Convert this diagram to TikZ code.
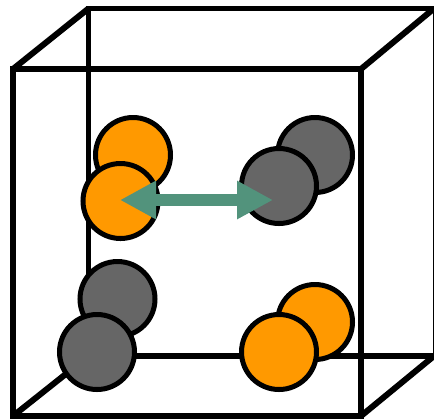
\documentclass[tikz,border=0pt]{standalone}
\usetikzlibrary{arrows.meta}
\definecolor{ink}{HTML}{000000}
\definecolor{amber}{HTML}{FF9900}
\definecolor{slate}{HTML}{666666}
\definecolor{sage}{HTML}{52937C}
\tikzset{
  backedge/.style={ink,line width=4.2pt},
  frontedge/.style={ink,line width=4.5pt},
  ball/.style={draw=ink,line width=3.75pt},
}

\begin{document}
\begin{tikzpicture}[x=0.75pt,y=-0.75pt,line join=miter]
  \def\ballradius{37.5}
  \useasboundingbox (0,0) rectangle (434,419);
  \clip (0,0) rectangle (434,419);

  \coordinate (BTL) at (88.5,8.5);
  \coordinate (BTR) at (434,8.5);
  \coordinate (BBL) at (88.5,356);
  \coordinate (BBR) at (434,356);
  \coordinate (BEdge) at (436.2,356);
  \coordinate (FTL) at (13,69);
  \coordinate (FTR) at (361,69);
  \coordinate (FBL) at (13,416);
  \coordinate (FBR) at (361,416);

  \draw[backedge] (BTL) rectangle (BEdge);
  \draw[frontedge] (FTL)--(BTL) (FTR)--(BTR) (FBL)--(BBL) (FBR)--(BBR);
  \draw[frontedge] (FTL) rectangle (FBR);

  \foreach \x/\y/\c in {133/155/amber,120.5/201/amber,315/155/slate,279/186/slate,
                        117.5/299/slate,97/352/slate,315/322/amber,279/352/amber}
    \draw[ball,fill=\c] (\x,\y) circle (\ballradius);

  \coordinate (L) at (120,200);
  \coordinate (R) at (273,200);
  \draw[sage,line width=9.5pt,{Triangle[length=27pt,width=27pt]}-{Triangle[length=27pt,width=27pt]}] (L)--(R);
\end{tikzpicture}
\end{document}
